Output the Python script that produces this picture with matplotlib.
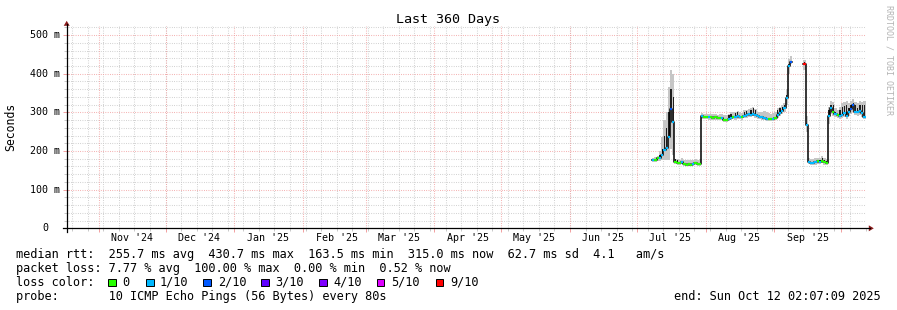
import datetime as dt
import numpy as np
import matplotlib
matplotlib.use("Agg")
import matplotlib.pyplot as plt
import matplotlib.dates as mdates
from matplotlib.lines import Line2D
from matplotlib.patches import Polygon, Rectangle

W, H = 897, 310
MONO = "DejaVu Sans Mono"

# ---------------- data ----------------
start = dt.datetime(2024, 10, 17, 2, 7, 9)
end = dt.datetime(2025, 10, 12, 2, 7, 9)
first_day = dt.datetime(2025, 7, 8)
nan = np.nan

# daily median rtt (ms), Jul 8 .. Oct 11 2025
median_ms = [
    177, 178, 182, 183, 189, 202, 209, 235, 308, 275,
    172, 170, 168, 171, 167, 165, 166, 165, 166, 168, 166, 167,
    290, 289, 288, 287, 287, 286, 287, 285, 286, 285, 281, 280, 284,
    286, 288, 287, 290, 288, 287, 291, 292, 295, 293, 297, 292,
    290, 289, 287, 285, 284, 283, 283, 284, 285,
    292, 298, 303, 310, 337, 420, 431,
    nan, nan, nan, nan, nan,
    425, 268,
    172, 170, 169, 171, 173, 172, 175, 171, 170,
    290, 310, 302, 295, 292, 290, 293, 298, 290, 300, 308, 318, 302, 300, 303, 298, 289,
]
# lost pings out of 10
loss = [
    1, 0, 0, 1, 1, 1, 1, 1, 2, 1,
    0, 0, 0, 1, 0, 0, 0, 0, 1, 0, 0, 0,
    1, 0, 0, 1, 0, 0, 0, 0, 0, 1, 0, 0, 1,
    1, 0, 1, 1, 1, 0, 1, 1, 1, 1, 1, 1,
    1, 1, 1, 1, 1, 0, 0, 1, 0,
    1, 1, 1, 1, 1, 1, 2,
    10, 10, 10, 10, 10,
    9, 1,
    1, 1, 1, 1, 0, 1, 0, 0, 0,
    1, 1, 0, 1, 0, 1, 1, 1, 1, 1, 2, 2, 1, 1, 1, 1, 1,
]
# smoke range (ms)
smoke_lo = [
    172, 172, 174, 175, 176, 176, 176, 178, 205, 190,
    166, 165, 163, 166, 162, 160, 161, 160, 161, 163, 161, 162,
    284, 283, 282, 281, 281, 280, 281, 279, 280, 279, 275, 274, 278,
    280, 282, 281, 284, 282, 281, 285, 286, 288, 287, 290, 286,
    284, 283, 281, 279, 278, 277, 277, 278, 279,
    285, 290, 295, 300, 320, 400, 425,
    nan, nan, nan, nan, nan,
    410, 250,
    166, 164, 163, 165, 167, 166, 169, 165, 164,
    270, 295, 290, 288, 285, 284, 286, 288, 284, 290, 295, 300, 292, 290, 292, 288, 282,
]
smoke_hi = [
    182, 184, 188, 200, 236, 280, 300, 365, 409, 400,
    180, 179, 178, 181, 178, 177, 178, 176, 178, 180, 178, 179,
    298, 297, 296, 296, 295, 295, 296, 294, 295, 296, 292, 292, 296,
    300, 300, 302, 304, 300, 299, 305, 306, 309, 310, 314, 308,
    302, 300, 302, 303, 300, 298, 297, 298, 300,
    310, 315, 320, 325, 360, 438, 445,
    nan, nan, nan, nan, nan,
    435, 290,
    182, 180, 179, 181, 183, 182, 186, 182, 180,
    315, 330, 328, 312, 305, 315, 325, 328, 330, 325, 330, 335, 328, 325, 330, 328, 330,
]
# top of dense (dark) smoke (ms)
smoke_core = [
    179, 180, 184, 190, 205, 240, 260, 300, 360, 340,
    180, 176, 168, 171, 167, 165, 166, 165, 166, 168, 166, 167,
    290, 289, 288, 287, 287, 286, 287, 285, 286, 285, 281, 280, 292,
    296, 288, 298, 300, 288, 287, 301, 303, 295, 306, 311, 305,
    290, 289, 287, 285, 284, 283, 283, 284, 285,
    305, 310, 315, 320, 345, 425, 431,
    nan, nan, nan, nan, nan,
    430, 272,
    172, 170, 169, 171, 176, 178, 182, 178, 175,
    305, 320, 318, 300, 292, 305, 314, 316, 320, 312, 318, 325, 318, 312, 320, 318, 319,
]

month_labels = ["Nov '24", "Dec '24", "Jan '25", "Feb '25", "Mar '25", "Apr '25",
                "May '25", "Jun '25", "Jul '25", "Aug '25", "Sep '25"]
ytick_values = [0, 100, 200, 300, 400, 500]
ytick_labels = ["0", "100 m", "200 m", "300 m", "400 m", "500 m"]

loss_names = ["0", "1/10", "2/10", "3/10", "4/10", "5/10", "9/10"]
loss_levels = [0, 1, 2, 3, 4, 5, 9]
loss_colors = ["#26ff00", "#00b8ff", "#0059ff", "#5e00ff", "#7e00ff", "#dd00ff", "#ff0000"]

# ---------------- figure ----------------
fig = plt.figure(figsize=(W / 100, H / 100), dpi=100)
fig.patch.set_facecolor("white")

def fx(x):
    return x / W

def fy(y):
    return 1 - y / H

X0, X1, Y0, Y1 = 65.7, 865.7, 228.3, 26.0
ax = fig.add_axes([fx(X0), fy(Y0), (X1 - X0) / W, (Y0 - Y1) / H])
ax.set_facecolor("white")
for s in ax.spines.values():
    s.set_visible(False)

t0, t1 = mdates.date2num(start), mdates.date2num(end)
ax.set_xlim(t0, t1)
ymax = (Y0 - Y1) / 0.3865 / 1000.0
ax.set_ylim(0, ymax)

GRAY = "#c8c8c8"
RED = "#f2a0a0"
dash = (0, (0.75, 1.45))

# minor vertical grid: Sundays
d = dt.datetime(2024, 10, 20)
sundays = []
while d < end:
    sundays.append(mdates.date2num(d))
    d += dt.timedelta(days=7)
months = []
y, m = 2024, 11
while dt.datetime(y, m, 1) < end:
    months.append((y, m))
    m += 1
    if m > 12:
        m, y = 1, y + 1
month_starts = [mdates.date2num(dt.datetime(yy, mm, 1)) for yy, mm in months]

for v in sundays:
    ax.axvline(v, color=GRAY, lw=0.75, ls=dash, zorder=0)
for v in np.arange(0.02, ymax, 0.02):
    if abs(v * 10 - round(v * 10)) > 1e-6:
        ax.axhline(v, color=GRAY, lw=0.75, ls=dash, zorder=0)
for v in month_starts:
    ax.axvline(v, color=RED, lw=0.75, ls=dash, zorder=0.5)
for v in [0.1, 0.2, 0.3, 0.4, 0.5]:
    ax.axhline(v, color=RED, lw=0.75, ls=dash, zorder=0.5)

# ticks
ax.set_xticks(month_starts)
ax.set_xticks(sundays, minor=True)
ax.set_yticks([v / 1000 for v in ytick_values])
ax.set_yticks(np.arange(0.02, ymax, 0.02), minor=True)
ax.tick_params(axis="both", which="both", labelbottom=False, labelleft=False)
ax.tick_params(axis="x", which="major", direction="out", length=3, width=0.7, color=RED)
ax.tick_params(axis="x", which="minor", direction="out", length=2, width=0.7, color=GRAY)
ax.tick_params(axis="y", which="major", direction="inout", length=5, width=0.7, color=RED)
ax.tick_params(axis="y", which="minor", direction="inout", length=3, width=0.7, color=GRAY)

# ---------------- series ----------------
n = len(median_ms)
days = [first_day + dt.timedelta(days=i) for i in range(n)]
xl = np.array([mdates.date2num(dd) for dd in days])
med = np.array(median_ms, dtype=float) / 1000
lo = np.array(smoke_lo, dtype=float) / 1000
hi = np.array(smoke_hi, dtype=float) / 1000
core = np.array(smoke_core, dtype=float) / 1000
ok = ~np.isnan(med)

ax.bar(xl[ok], (hi - lo)[ok], bottom=lo[ok], width=1.0, align="edge",
       color="#c6c6c6", linewidth=0, zorder=1)
cm = ok & (core > med)
ax.bar(xl[cm] + 0.5, (core - med)[cm], bottom=med[cm], width=0.6, align="center",
       color="#1e1e1e", linewidth=0, zorder=2)

xs = np.append(xl, xl[-1] + 1)
ys = np.append(med, med[-1])
ax.step(xs, ys, where="post", color="black", lw=1.1, zorder=3)

cmap = dict(zip(loss_levels, loss_colors))
cols = [cmap.get(l, "none") for l, o in zip(loss, ok) if o]
ax.hlines(med[ok], xl[ok], xl[ok] + 1, colors=cols, lw=1.6, zorder=4)

# ---------------- axes lines & arrows ----------------
AX_X, AX_Y = 66.7, 228.3
fig.add_artist(Line2D([fx(AX_X), fx(AX_X)], [fy(231.5), fy(24)], color="black", lw=0.9))
fig.add_artist(Line2D([fx(62.5), fx(869.5)], [fy(AX_Y), fy(AX_Y)], color="black", lw=0.9))
ARROW = "#8c1c1c"
fig.add_artist(Polygon([(fx(AX_X - 3), fy(25.8)), (fx(AX_X + 3), fy(25.8)), (fx(AX_X), fy(20.8))],
                       closed=True, color=ARROW, lw=0))
fig.add_artist(Polygon([(fx(868.8), fy(AX_Y - 3)), (fx(868.8), fy(AX_Y + 3)), (fx(873.8), fy(AX_Y))],
                       closed=True, color=ARROW, lw=0))

# ---------------- texts ----------------
fig.text(fx(448), fy(19.5), "Last 360 Days", ha="center", va="center",
         family=MONO, size=9.6, color="black")
fig.text(fx(11), fy(127), "Seconds", ha="center", va="center", rotation=90,
         family=MONO, size=8.3, color="black")
fig.text(fx(888.5), fy(60), "RRDTOOL / TOBI OETIKER", ha="center", va="center",
         rotation=270, family=MONO, size=6.0, color="#b4b4b4")

for v, lab in zip(ytick_values, ytick_labels):
    ypx = Y0 - v * 0.3865
    if lab == "0":
        fig.text(fx(42.5), fy(ypx), lab, ha="left", va="center", family=MONO, size=7.2)
    else:
        fig.text(fx(59.8), fy(ypx), lab, ha="right", va="center", family=MONO, size=7.2)

for (yy, mm), lab in zip(months, month_labels):
    xc = mdates.date2num(dt.datetime(yy, mm, 16))
    ax.text(xc, -0.0245, lab, ha="center", va="center", family=MONO, size=7.2,
            transform=ax.transData, clip_on=False)

LS = 8.57
line1 = "median rtt:  255.7 ms avg  430.7 ms max  163.5 ms min  315.0 ms now  62.7 ms sd  4.1   am/s"
line2 = "packet loss: 7.77 % avg  100.00 % max  0.00 % min  0.52 % now"
line4 = "probe:       10 ICMP Echo Pings (56 Bytes) every 80s"
fig.text(fx(16), fy(254.3), line1, ha="left", va="center", family=MONO, size=LS)
fig.text(fx(16), fy(268.3), line2, ha="left", va="center", family=MONO, size=LS)
fig.text(fx(16), fy(282.3), "loss color:", ha="left", va="center", family=MONO, size=LS)
fig.text(fx(16), fy(296.5), line4, ha="left", va="center", family=MONO, size=LS)
fig.text(fx(880.5), fy(296.5), "end: Sun Oct 12 02:07:09 2025", ha="right", va="center",
         family=MONO, size=LS)

box_x = [108, 146, 203.3, 261, 319, 376.7, 435.7]
txt_x = [122.7, 160, 218.3, 275, 333.3, 390.7, 450]
for bx, tx, c, nm in zip(box_x, txt_x, loss_colors, loss_names):
    fig.add_artist(Rectangle((fx(bx), fy(286.2)), 7.5 / W, 7.7 / H, transform=fig.transFigure,
                             facecolor=c, edgecolor="black", lw=0.7))
    fig.text(fx(tx), fy(282.3), nm, ha="left", va="center", family=MONO, size=LS)

fig.savefig("out.png", dpi=100)
